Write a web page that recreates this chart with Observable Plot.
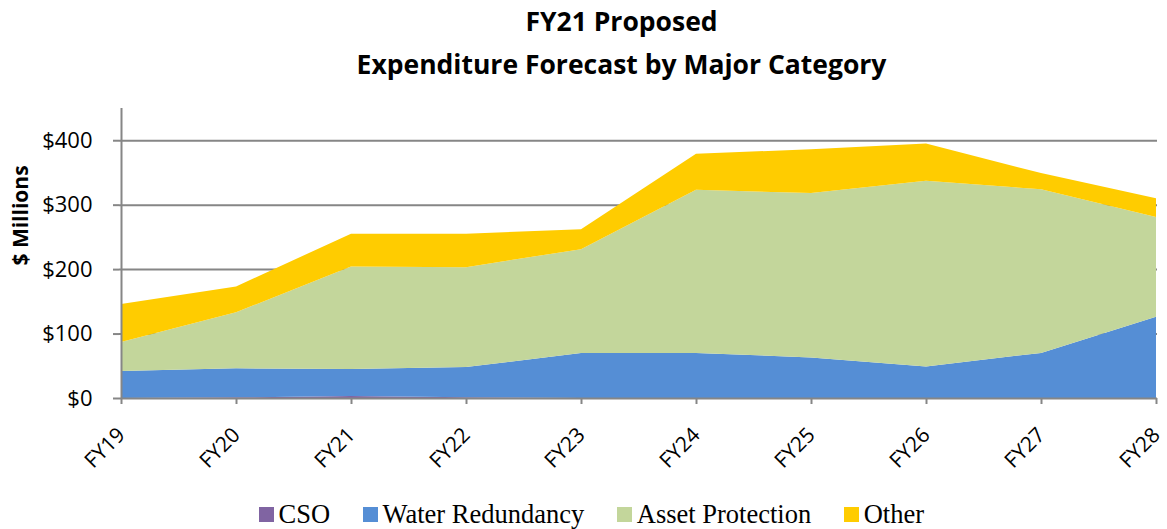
<!DOCTYPE html>
<html>
<head>
<meta charset="utf-8">
<script src="https://cdn.jsdelivr.net/npm/d3@7"></script>
<script src="https://cdn.jsdelivr.net/npm/@observablehq/plot@0.6"></script>
<style>
  html, body { margin: 0; padding: 0; background: #fff; }
  #wrap { width: 1167px; height: 529px; overflow: hidden; position: relative; }
  #title { height: 90px; font-family: "Open Sans", sans-serif; font-weight: 700; font-size: 26.5px;
           text-align: center; padding-left: 76px; box-sizing: border-box; line-height: 43px; padding-top: 0px; color: #000; }
  #legend { display: flex; align-items: center; padding-left: 259px; height: 44px; padding-top: 14px; box-sizing: border-box;
            font-family: "Liberation Serif", "Times New Roman", serif; font-size: 26.5px; color: #000; }
  .item { display: flex; align-items: center; margin-right: 33px; }
  .sw { width: 15px; height: 15px; margin-right: 4.5px; }
  svg { display: block; }
</style>
</head>
<body>
<div id="wrap">
  <div id="title">FY21 Proposed<br>Expenditure Forecast by Major Category</div>
  <div id="chart"></div>
  <div id="legend"></div>
</div>
<script>
const years = ["FY19","FY20","FY21","FY22","FY23","FY24","FY25","FY26","FY27","FY28"];
const seriesNames = ["CSO","Water Redundancy","Asset Protection","Other"];
const seriesColors = ["#8064A2","#558ED5","#C3D69B","#FFCC00"];
const cso = [0, 1, 3, 1, 0, 0, 0, 0, 0, 0];
const waterRedundancy = [42, 45, 42, 47, 70, 70, 63, 49, 70, 126];
const assetProtection = [45, 87, 159, 155, 161, 253, 255, 288, 254, 155];
const other = [59, 40, 51, 52, 31, 56, 68, 58, 25, 29];
const yTicks = [0, 100, 200, 300, 400];

const seriesValues = [cso, waterRedundancy, assetProtection, other];
const data = [];
seriesNames.forEach((s, si) => years.forEach((y, i) => data.push({year: y, series: s, value: seriesValues[si][i]})));

const gray = "#868686";
const chart = Plot.plot({
  width: 1167,
  height: 395,
  marginLeft: 119,
  marginRight: 10,
  marginTop: 18,
  marginBottom: 87,
  style: {fontFamily: "Open Sans, sans-serif", fontSize: "20px", color: "#000", background: "#fff"},
  x: {type: "point", domain: years, padding: 0},
  y: {domain: [0, 450]},
  color: {domain: seriesNames, range: seriesColors},
  marks: [
    Plot.ruleY([100, 200, 300, 400], {stroke: gray, strokeWidth: 2}),
    Plot.areaY(data, Plot.stackY({x: "year", y: "value", z: "series", fill: "series", order: seriesNames, curve: "linear"})),
    Plot.axisY({ticks: yTicks, tickFormat: d => "$" + d, tickSize: 6, tickPadding: 21, stroke: gray, strokeWidth: 2, fill: "#000", fontSize: 22, label: null}),
    Plot.axisX({tickSize: 6, tickPadding: 27, tickRotate: -45, stroke: gray, strokeWidth: 2, fill: "#000", fontSize: 21, label: null}),
    Plot.ruleY([0], {stroke: gray, strokeWidth: 2}),
    Plot.ruleX([years[0]], {y1: 0, y2: 450, stroke: gray, strokeWidth: 2}),
    Plot.text(["$ Millions"], {frameAnchor: "left", textAnchor: "middle", dx: -98, dy: -38, rotate: -90, fontWeight: "bold", fontSize: 21, fill: "#000"})
  ]
});
document.getElementById("chart").appendChild(chart);

const legend = document.getElementById("legend");
seriesNames.forEach((s, i) => {
  const it = document.createElement("div");
  it.className = "item";
  const sw = document.createElement("div");
  sw.className = "sw";
  sw.style.background = seriesColors[i];
  const t = document.createElement("span");
  t.textContent = s;
  it.appendChild(sw); it.appendChild(t);
  legend.appendChild(it);
});
</script>
</body>
</html>
